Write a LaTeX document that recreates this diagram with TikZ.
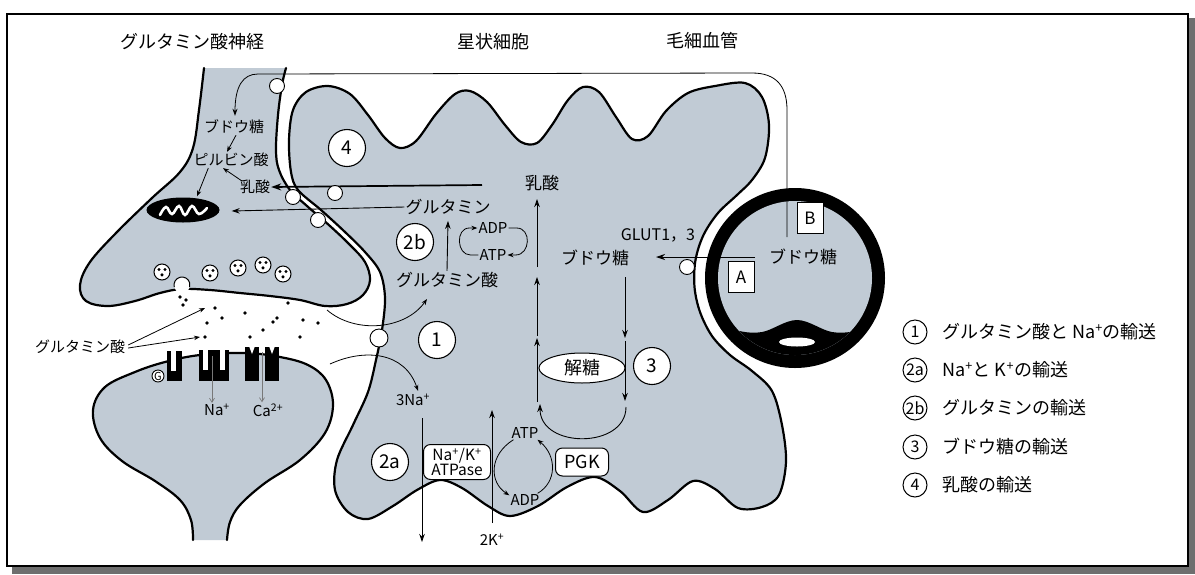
\documentclass[tikz,border=0pt]{standalone}
\usepackage{fontspec}
\setmainfont{Noto Sans CJK JP}
\usetikzlibrary{arrows.meta,calc,shapes.geometric}

\definecolor{cellfill}{RGB}{193,203,213}
\definecolor{shadowgrey}{RGB}{110,110,110}
\definecolor{iongrey}{RGB}{120,120,120}
\newcommand\fsz[1]{\fontsize{#1}{#1}\selectfont}

% cell outlines (units: 1pt, y pointing down)
\newcommand\PostOutline{plot[smooth, tension=0.6] coordinates {(193,540) (191,520) (180,500) (155,481) (122,461) (100,438) (93,410) (105,387) (135,372) (165,362) (200,355) (245,353) (280,357) (308,365) (326,380) (333,405) (325,433) (300,460) (265,483) (240,505) (230,522) (227,540)}}
\newcommand\PreOutline{plot[smooth, tension=0.6] coordinates {(204,68) (199,110) (193,148) (180,172) (152,198) (117,232) (90,262) (80,285) (86,301) (108,306) (135,301) (160,293) (182,289) (210,290) (240,293) (270,296) (300,300) (325,306) (347,304) (363,295) (370,280) (365,262) (350,245) (330,226) (307,206) (290,190) (279,170) (276,150) (278,115) (282,85) (286,68)}}
\newcommand\AstroOutline{plot[smooth cycle, tension=0.55] coordinates {(291,172) (289,140) (293,110) (306,92) (328,86) (350,94) (368,115) (385,138) (400,148) (416,141) (436,114) (455,94) (470,91) (487,102) (505,125) (521,142) (537,143) (552,125) (568,100) (583,87) (599,92) (616,117) (632,139) (648,136) (666,111) (688,93) (715,86) (745,83) (762,97) (769,125) (765,158) (752,180) (737,195) (718,213) (703.5,235) (695.5,260) (694.5,287) (700,312) (712,336) (730,355) (752,371) (772,391) (782,425) (786,462) (779,495) (762,507) (738,508) (715,489) (693,481) (668,500) (643,512) (620,491) (595,477) (567,487) (538,506) (510,516) (488,506) (462,488) (440,480) (417,490) (393,506) (368,519) (348,512) (335,490) (337,460) (353,425) (368,392) (376,360) (382,330) (385,298) (380,272) (365,252) (345,232) (321,210) (298,190)}}

\tikzset{
  membrane/.style={line width=2.2pt, line join=round, line cap=round},
  numcirc/.style={circle, draw, line width=1.1pt, fill=white, minimum size=37pt, inner sep=0pt, font=\fsz{19}},
  keycirc/.style={circle, draw, line width=1pt, minimum size=24pt, inner sep=0pt, font=\fsz{16}},
  pore/.style={circle, draw, line width=0.9pt, fill=white, minimum size=15pt, inner sep=0pt},
  vesicle/.style={circle, draw, line width=1pt, fill=white, minimum size=16pt, inner sep=0pt},
  headline/.style={font=\fsz{18}, inner sep=0pt},
  lbl/.style={font=\fsz{17}, inner sep=1pt},
  nlbl/.style={font=\fsz{15}, inner sep=1pt},
  smalltxt/.style={font=\fsz{15}, inner sep=1pt},
  keytxt/.style={font=\fsz{18}, anchor=west, inner sep=0pt},
  flow/.style={line width=0.9pt, -{Stealth[length=8pt,width=5.5pt]}},
  fine/.style={line width=0.8pt, -{Stealth[length=6pt,width=4.5pt]}},
  heavy/.style={line width=1.7pt, -{Stealth[length=10pt,width=7pt]}},
  ion/.style={iongrey, line width=0.7pt, -{Straight Barb[length=4pt,width=5pt]}},
  rbox/.style={draw, fill=white, rounded corners=7pt, line width=1pt, align=center, inner sep=2pt},
  letterbox/.style={draw, fill=white, line width=1pt, minimum width=26pt, minimum height=31pt, inner sep=0pt, font=\fsz{17}},
}

\begin{document}
\begin{tikzpicture}[x=1pt,y=-1pt]
\useasboundingbox (0,0) rectangle (1195,574);

% frame with drop shadow
\fill[shadowgrey] (1187,18) rectangle (1195,574);
\fill[shadowgrey] (12,565) rectangle (1195,574);
\draw[line width=1.3pt, fill=white] (7,14) rectangle (1188,566);

% headings
\node[headline] (tNeuron) at (192,42) {グルタミン酸神経};
\node[headline] (tAstro) at (493,42) {星状細胞};
\node[headline] (tCap) at (702,41) {毛細血管};

% postsynaptic dendrite
\fill[cellfill] \PostOutline -- cycle;
\draw[membrane] \PostOutline;

% presynaptic terminal
\fill[cellfill] \PreOutline -- cycle;
\draw[membrane] \PreOutline;

% astrocyte
\fill[cellfill] \AstroOutline;
\draw[membrane] \AstroOutline;

% receptors on the postsynaptic membrane
\fill (167,351) rectangle (182,381);
\fill[white] (171,349) rectangle (176,371);
\fill (199,350) rectangle (229,381);
\fill[white] (203,348) rectangle (208,370);
\fill[white] (220,348) rectangle (225,370);
\fill (245,347) rectangle (259,381);
\fill (265,347) rectangle (279,381);
\fill[white] (249,346) -- (252,354) -- (255,346) -- cycle;
\fill[white] (269,346) -- (272,354) -- (275,346) -- cycle;
\node[circle, draw, line width=0.9pt, fill=white, minimum size=12pt, inner sep=0pt, font=\fsz{11}] (gprot) at (158,376) {G};

% ion influx
\node[smalltxt] (naPost) at (217,410) {Na\textsuperscript{+}};
\node[smalltxt] (caPost) at (268,410) {Ca\textsuperscript{2+}};
\coordinate (naIn) at (212,356);
\coordinate (caIn) at (262,352);
\draw[ion] (naIn) -- (naIn |- naPost.north);
\draw[ion] (caIn) -- (caIn |- caPost.north);

% synaptic vesicles
\foreach \vx/\vy [count=\k] in {162/272, 210/273, 238/268, 263/265, 283/274} {
  \node[vesicle] (ves\k) at (\vx,\vy) {};
  \fill (\vx-3,\vy-2.5) circle (1.7pt) (\vx+3,\vy-2.5) circle (1.7pt) (\vx,\vy+2.8) circle (1.7pt);
}
% vesicle fusing with the membrane
\fill[white] (182,285) circle (8pt);
\draw[line width=1pt] (182,285) ++(195:8pt) arc[start angle=195, end angle=-15, radius=8pt];

% released glutamate
\foreach \dx/\dy in {180/297, 186/300, 183/305, 215/308, 245/313, 222/318, 207/323, 277/318, 273/322, 288/303, 303/320, 318/323, 263/330, 205/337, 250/337, 300/337}
  \fill (\dx,\dy) circle (1.9pt);

\node[nlbl] (gluL) at (80,347) {グルタミン酸};
\coordinate (gluDotA) at (205,308);
\coordinate (gluDotB) at (200,337);
\draw[fine] ($(gluL.east)+(2,-2)$) -- (gluDotA);
\draw[fine] ($(gluL.east)+(2,1)$) -- (gluDotB);

% mitochondrion
\node[ellipse, fill=black, minimum width=73pt, minimum height=25pt, inner sep=0pt] (mito) at (183,210) {};
\draw[white, line width=2.6pt, line cap=round] plot[smooth, tension=0.7] coordinates {(160,215) (166,207) (172,214) (179,206) (185,215) (192,206) (199,214) (207,208)};

% neuron metabolites
\node[nlbl] (glcN) at (234,127) {ブドウ糖};
\node[nlbl] (pyrN) at (231,160) {ピルビン酸};
\node[nlbl] (lacN) at (255,187) {乳酸};
\draw[fine] ($(glcN.south)+(2,0)$) -- ($(pyrN.north)+(-4,0)$);
\draw[fine] ($(pyrN.south west)+(16,0)$) -- ($(mito.north)+(14,-1)$);
\draw[fine] ($(lacN.north west)+(3,2)$) -- ($(pyrN.south)+(-8,0)$);

% capillary
\node[circle, fill=black, minimum size=180pt, inner sep=0pt] (cap) at (795,278) {};
\fill[cellfill] (cap.center) circle (77pt);
\begin{scope}
  \clip (cap.center) circle (77pt);
  \fill plot[smooth, tension=0.6] coordinates {(712,320) (735,330) (762,332) (797,320) (832,332) (860,330) (882,320)} -- (882,362) -- (712,362) -- cycle;
\end{scope}
\fill[white] (797,342) ellipse (18pt and 4.5pt);
\node[letterbox] (boxA) at (741,277) {A};
\node[letterbox] (boxB) at (810,218) {B};
\node[lbl] (glcC) at (803,257) {ブドウ糖};

% glucose supply to the neuron
\coordinate (supStart) at (787,237);
\draw[line width=0.8pt, -{Stealth[length=7pt,width=5pt]}] (supStart) -- (787,110) .. controls (787,86) and (776,73) .. (752,73) -- (258,74) .. controls (243,74) and (235,86) .. ($(glcN.north)+(1,-3)$);
\node[pore] (poreTop) at (277,86) {};

% glucose uptake into the astrocyte
\node[smalltxt, font=\fsz{16}] (glut) at (658,235) {GLUT1，3};
\node[lbl] (glcA) at (595,258) {ブドウ糖};
\coordinate (capOut) at (755,257);
\coordinate (glutIn) at (656,257);
\draw[line width=1pt, -{Stealth[length=9pt,width=6pt]}] (capOut) -- (glutIn);
\node[pore] (poreGlut) at (687,267) {};

% lactate and glutamine shuttle
\node[lbl] (lacA) at (542,183) {乳酸};
\node[lbl] (gln) at (448,207) {グルタミン};
\node[lbl] (gluA) at (447,280) {グルタミン酸};
\coordinate (lacStart) at (482,185);
\draw[heavy] (lacStart) -- (lacN.east);
\draw[flow] (gln.west) -- ($(mito.east)+(12,1)$);
\node[pore] (poreL1) at (293,197) {};
\node[pore] (poreL2) at (335,193) {};
\node[pore] (poreL3) at (318,220) {};
\draw[flow] (gluA.north) -- ($(gln.south)+(0,5)$);

% ADP / ATP cycle of glutamine synthesis
\node[smalltxt] (adpT) at (493,228) {ADP};
\node[smalltxt] (atpT) at (493,255) {ATP};
\draw[fine] (atpT.west) -- ++(-8,0) .. controls +(-14,0) and +(-14,0) .. ($(adpT.west)+(-8,0)$) -- (adpT.west);
\draw[fine] (adpT.east) -- ++(8,0) .. controls +(15,0) and +(15,0) .. ($(atpT.east)+(8,0)$) -- (atpT.east);

% glycolysis column
\coordinate (l0) at (537,402);
\coordinate (l1) at (537,338);
\coordinate (l2) at (537,336);
\coordinate (l3) at (537,277);
\coordinate (l4) at (537,267);
\coordinate (l5) at (537,199);
\draw[flow] (l0) -- (l1);
\draw[flow] (l2) -- (l3);
\draw[flow] (l4) -- (l5);
\coordinate (r0) at (625,277);
\coordinate (r1) at (625,338);
\coordinate (r2) at (625,341);
\coordinate (r3) at (625,401);
\draw[flow] (r0) -- (r1);
\draw[flow] (r2) -- (r3);
\coordinate (uStart) at (626,407);
\coordinate (uEnd) at (540,404);
\draw[flow] (uStart) .. controls (626,449) and (540,449) .. (uEnd);
\node[ellipse, draw, fill=white, line width=1pt, minimum width=86pt, minimum height=30pt, inner sep=0pt, font=\fsz{18}] (glyc) at (582,368) {解糖};

% Na+/K+ pump and ATP regeneration
\node[smalltxt] (na3) at (413,400) {3Na\textsuperscript{+}};
\node[smalltxt] (k2) at (492,540) {2K\textsuperscript{+}};
\coordinate (naTop) at (422,418);
\coordinate (naBot) at (422,542);
\draw[flow] (naTop) -- (naBot);
\coordinate (kBot) at (492,523);
\coordinate (kTop) at (492,410);
\draw[flow] (kBot) -- (kTop);
\node[rbox, font=\fsz{15.5}, minimum width=67pt, minimum height=35pt] (nak) at (457,462) {Na\textsuperscript{+}/K\textsuperscript{+}\\ATPase};
\node[rbox, font=\fsz{18}, minimum width=53pt, minimum height=28pt] (pgk) at (582,462) {PGK};
\node[smalltxt] (atpB) at (525,433) {ATP};
\node[smalltxt] (adpB) at (525,500) {ADP};
\draw[fine] ($(atpB.south west)+(3,0)$) .. controls (489,455) and (489,482) .. ($(adpB.north west)+(0,2)$);
\draw[fine] ($(adpB.north east)+(-3,0)$) .. controls (557,482) and (557,456) .. ($(atpB.south east)+(-2,0)$);

% glutamate uptake with Na+
\coordinate (gluIn) at (327,310);
\coordinate (gluTip) at (427,299);
\draw[fine] (gluIn) .. controls (355,334) and (405,330) .. (gluTip);
\coordinate (naIn2) at (330,364);
\draw[fine] (naIn2) .. controls (365,348) and (405,352) .. ($(na3.north)+(5,-2)$);
\node[pore, minimum size=18pt] (poreGlu) at (379,338) {};

% numbered transport steps
\node[numcirc] (n4) at (347,148) {4};
\node[numcirc] (n2b) at (415,242) {2b};
\node[numcirc] (n1) at (437,340) {1};
\node[numcirc] (n3) at (652,366) {3};
\node[numcirc] (n2a) at (390,462) {2a};

% key
\node[keycirc] (k1) at (915,332) {1};
\node[keytxt] (kt1) at (942,332) {グルタミン酸と Na\textsuperscript{+}の輸送};
\node[keycirc] (k2a) at (915,370) {2a};
\node[keytxt] (kt2a) at (942,370) {Na\textsuperscript{+}と K\textsuperscript{+}の輸送};
\node[keycirc] (k2b) at (915,408) {2b};
\node[keytxt] (kt2b) at (942,408) {グルタミンの輸送};
\node[keycirc] (k3) at (915,447) {3};
\node[keytxt] (kt3) at (942,447) {ブドウ糖の輸送};
\node[keycirc] (k4) at (915,485) {4};
\node[keytxt] (kt4) at (942,485) {乳酸の輸送};
\end{tikzpicture}
\end{document}
